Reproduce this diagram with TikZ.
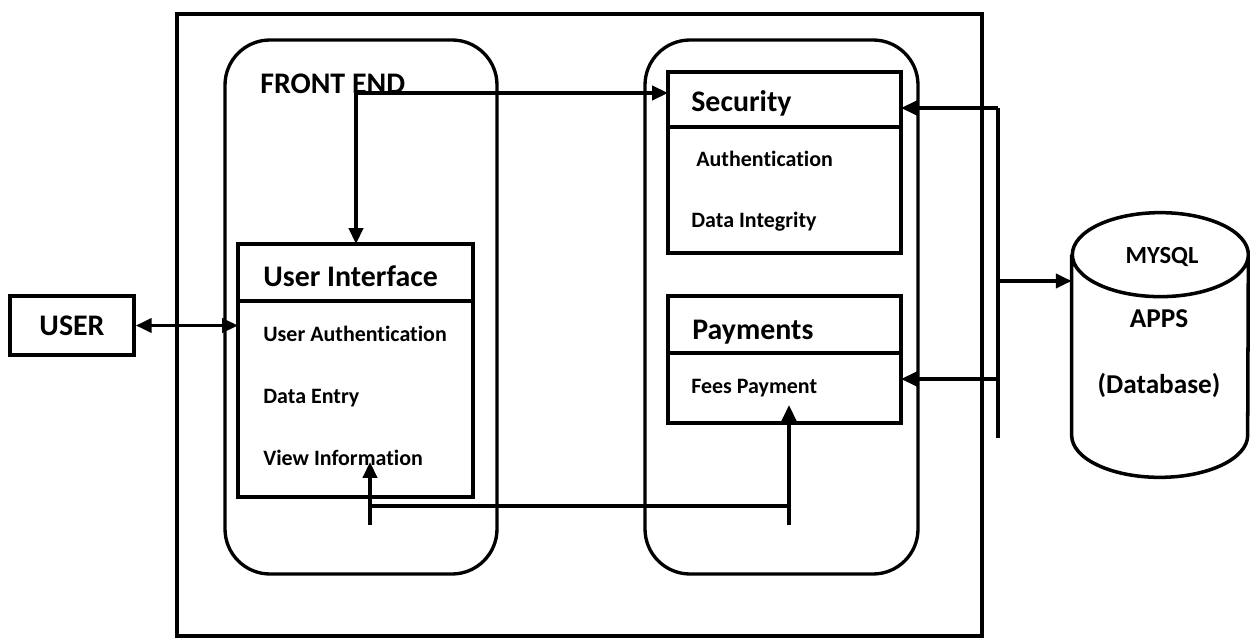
\documentclass[tikz,border=0pt]{standalone}
\usepackage{fontspec}
\setmainfont{Carlito}[RawFeature={-liga}]
\usetikzlibrary{arrows.meta,positioning}

\tikzset{
  frame/.style={draw,line width=1.8pt},
  group/.style={draw,line width=1.9pt,rounded corners=9mm},
  part/.style={draw,line width=2.1pt,anchor=north west,inner sep=0pt,outer sep=0pt},
  heading/.style={font=\bfseries\fontsize{17}{20}\selectfont,anchor=base west,inner sep=0pt},
  entry/.style={font=\bfseries\fontsize{12.5}{15}\selectfont,anchor=base west,inner sep=0pt},
  dbtext/.style={font=\bfseries\fontsize{15.5}{18}\selectfont,anchor=base,inner sep=0pt},
  wire/.style={line width=2pt},
  link/.style={wire,-{Triangle[length=9pt,width=8pt]}},
  twoway/.style={wire,{Triangle[length=9pt,width=8pt]}-{Triangle[length=9pt,width=8pt]}},
}

\begin{document}
\begin{tikzpicture}[x=0.2mm,y=0.2mm]
  \useasboundingbox (0,0) rectangle (1250,-639);

  % outer frame and the two rounded groups
  \draw[frame] (177,-14) rectangle (982,-636);
  \draw[group] (225,-40) rectangle (497,-574);
  \draw[group] (645,-40) rectangle (918,-574);
  \node[heading] (front) at (260,-94) {FRONT END};

  % user
  \node[draw,line width=2.1pt,minimum width=24.8mm,minimum height=11.8mm,
        font=\bfseries\fontsize{17}{20}\selectfont] (user) at (72,-325.5) {USER};

  % user interface
  \node[part,minimum width=47mm,minimum height=11.4mm] (uihead) at (238,-244) {};
  \node[part,minimum width=47mm,minimum height=39.2mm] (uibody) at (uihead.south west) {};
  \node[heading] (uititle) at (263,-287) {User Interface};
  \node[entry] (uiauth) at (263,-341) {User Authentication};
  \node[entry] (uidata) at (263,-403) {Data Entry};
  \node[entry] (uiview) at (263,-465) {View Information};

  % security
  \node[part,minimum width=46.6mm,minimum height=11mm] (sechead) at (668,-72) {};
  \node[part,minimum width=46.6mm,minimum height=25.2mm] (secbody) at (sechead.south west) {};
  \node[heading] (sectitle) at (691,-112) {Security};
  \node[entry] (secauth) at (696,-167) {Authentication};
  \node[entry] (secdata) at (691,-228) {Data Integrity};

  % payments
  \node[part,minimum width=46.6mm,minimum height=11.4mm] (payhead) at (668,-296) {};
  \node[part,minimum width=46.6mm,minimum height=14mm] (paybody) at (payhead.south west) {};
  \node[heading] (paytitle) at (692,-339) {Payments};
  \node[entry] (payfees) at (691,-393) {Fees Payment};

  % database cylinder
  \node[minimum width=35.2mm,minimum height=52.8mm,inner sep=0pt] (db) at (1160,-345) {};
  \draw[wire] ([yshift=-8.4mm]db.north west) -- ([yshift=8.4mm]db.south west)
    arc[start angle=180,end angle=360,x radius=17.6mm,y radius=8.4mm]
    -- ([yshift=-8.4mm]db.north east)
    arc[start angle=0,end angle=180,x radius=17.6mm,y radius=8.4mm]
    arc[start angle=180,end angle=360,x radius=17.6mm,y radius=8.4mm];
  \node[dbtext,font=\bfseries\fontsize{14}{17}\selectfont] (mysql) at (1162,-263) {MYSQL};
  \node[dbtext] (apps) at (1159,-327) {APPS};
  \node[dbtext] (dbname) at (1159,-393) {(Database)};

  % connectors
  \coordinate (ui in) at (356,-244);
  \coordinate (sec in) at (668,-93);
  \coordinate (bus top) at (998,-108);
  \coordinate (bus db) at (998,-281);
  \coordinate (bus pay) at (998,-379);
  \coordinate (bus end) at (998,-438);
  \coordinate (view pt) at (370,-462);
  \coordinate (fee pt) at (789,-405);
  \coordinate (low a) at (370,-525);
  \coordinate (low b) at (789,-525);
  \coordinate (bar a) at (370,-506);
  \coordinate (bar b) at (789,-506);

  \draw[twoway] (user.east) -- (user.east -| uibody.west);
  \draw[twoway] (ui in) |- (sec in);
  \draw[wire] (bus top) -- (bus end);
  \draw[link] (bus top) -- (bus top -| sechead.east);
  \draw[link] (bus pay) -- (bus pay -| paybody.east);
  \draw[link] (bus db) -- (bus db -| db.west);
  \draw[link] (low a) -- (view pt);
  \draw[link] (low b) -- (fee pt);
  \draw[wire] (bar a) -- (bar b);
\end{tikzpicture}
\end{document}
